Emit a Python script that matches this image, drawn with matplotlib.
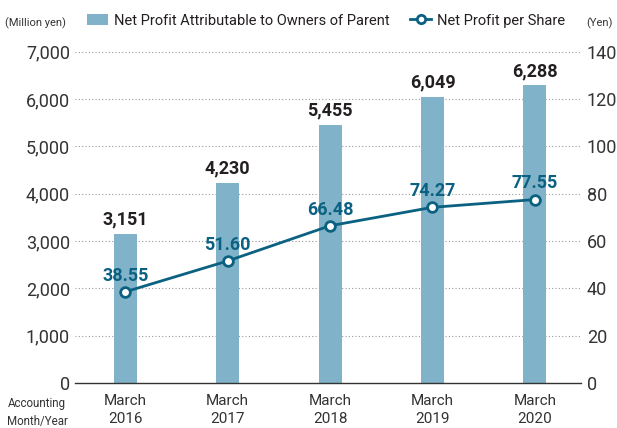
import matplotlib
matplotlib.use("Agg")
import matplotlib.pyplot as plt
from matplotlib.lines import Line2D
from matplotlib.patches import Patch

plt.rcParams['font.family'] = ['Roboto', 'DejaVu Sans']

years = ["March\n2016", "March\n2017", "March\n2018", "March\n2019", "March\n2020"]
profit = [3151, 4230, 5455, 6049, 6288]
per_share = [38.55, 51.60, 66.48, 74.27, 77.55]
profit_labels = ["3,151", "4,230", "5,455", "6,049", "6,288"]
share_labels = ["38.55", "51.60", "66.48", "74.27", "77.55"]
left_ticks = [0, 1000, 2000, 3000, 4000, 5000, 6000, 7000]
right_ticks = [0, 20, 40, 60, 80, 100, 120, 140]

bar_color = "#80b3c9"
line_color = "#0b6181"
text_color = "#231f20"

fig = plt.figure(figsize=(6.17, 4.28), dpi=100)
ax = fig.add_axes([0.1216, 0.105, 0.820, 0.774])
x = list(range(len(years)))

ax.bar(x, profit, width=0.224, color=bar_color, zorder=2)
ax.set_ylim(0, 7000)
ax.set_xlim(-0.49, 4.45)
ax.set_yticks(left_ticks)
ax.set_yticklabels([f"{v:,}" for v in left_ticks], fontsize=13, color="#333333")
ax.set_xticks(x)
ax.set_xticklabels(years, fontsize=11, color="#333333", linespacing=1.35)
ax.tick_params(axis='both', length=0)
ax.tick_params(axis='y', pad=3.6)
ax.tick_params(axis='x', pad=8)
for s in ['top', 'right', 'left']:
    ax.spines[s].set_visible(False)
ax.spines['bottom'].set_color("#333333")
ax.spines['bottom'].set_linewidth(1.0)
for t in left_ticks[1:]:
    ax.axhline(t, color="#9a9a9a", linestyle=(0, (1, 2)), linewidth=0.8, zorder=1)

for xi, v, lab in zip(x, profit, profit_labels):
    ax.text(xi, v + 110, lab, ha='center', va='bottom', fontsize=13,
            fontweight='bold', color=text_color)

ax2 = ax.twinx()
ax2.set_ylim(0, 140)
ax2.set_yticks(right_ticks)
ax2.set_yticklabels([str(v) for v in right_ticks], fontsize=13, color="#333333")
ax2.tick_params(axis='y', length=0, pad=4.3)
for s in ['top', 'right', 'left', 'bottom']:
    ax2.spines[s].set_visible(False)
ax2.plot(x, per_share, color=line_color, linewidth=2, marker='o', markersize=7,
         markerfacecolor='white', markeredgecolor=line_color, markeredgewidth=2, zorder=3)
for xi, v, lab in zip(x, per_share, share_labels):
    ax2.text(xi, v + 3.0, lab, ha='center', va='bottom', fontsize=13,
             fontweight='bold', color=line_color)

handles = [Patch(facecolor=bar_color, edgecolor='none'),
           Line2D([], [], color=line_color, linewidth=2, marker='o', markersize=6,
                  markerfacecolor='white', markeredgewidth=2)]
fig.legend(handles, ["Net Profit Attributable to Owners of Parent", "Net Profit per Share"],
           loc='center', bbox_to_anchor=(0.529, 0.952), ncol=2, frameon=False,
           fontsize=10.5, handlelength=1.4, handletextpad=0.45, columnspacing=1.4,
           labelcolor=text_color)

fig.text(0.008, 0.945, "(Million yen)", fontsize=8, color="#333333", va='center')
fig.text(0.993, 0.945, "(Yen)", fontsize=8, color="#333333", va='center', ha='right')
fig.text(0.06, 0.036, "Accounting\nMonth/Year", fontsize=8.3, color="#333333",
         ha='center', va='center', linespacing=1.5)

fig.savefig("out.png", dpi=100)
